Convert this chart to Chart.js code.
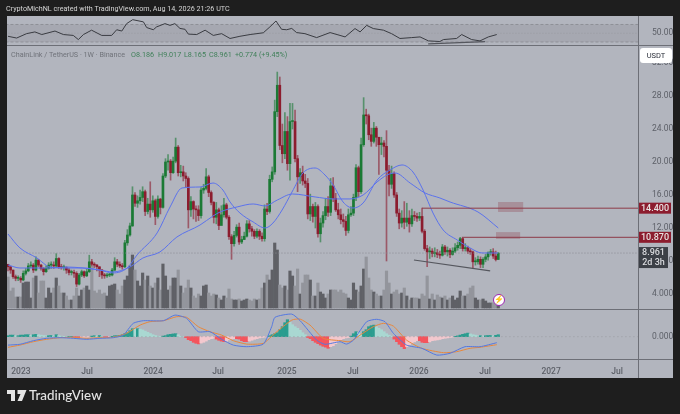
<!DOCTYPE html>
<html>
<head>
<meta charset="utf-8">
<title>ChainLink / TetherUS</title>
<script src="https://cdn.jsdelivr.net/npm/chart.js@4"></script>
<style>
  html, body { margin: 0; padding: 0; background: #1e1e1e; overflow: hidden; }
  body { width: 680px; height: 414px; position: relative; font-family: Roboto, sans-serif; }
  #panel { position: absolute; left: 7px; top: 16px; width: 666px; height: 362px; background: #b2b5be; }
  canvas { position: absolute; left: 0; top: 0; }
  .txt { position: absolute; white-space: nowrap; line-height: 1; }
  #title { left: 6px; top: 5px; font-size: 7.2px; color: #d6d6d6; }
  .legend { top: 51px; font-size: 7.2px; color: #6f7279; }
  .legend.val { color: #41805a; }
  #usdt { left: 640px; top: 48px; width: 32px; height: 15px; background: #fff; border-radius: 3px; font-size: 7.5px; color: #2a2e39; text-align: center; line-height: 15px; }
  #logo { left: 29px; top: 389px; font-family: Lato, sans-serif; font-size: 13.4px; font-weight: 500; color: #e4e4e4; }
  #logoMark { position: absolute; left: 7px; top: 390px; }
  #bolt { position: absolute; left: 493px; top: 294px; width: 10px; height: 10px; border: 1.5px solid #9c27b0; border-radius: 50%; background: #fff; color: #9c27b0; font-size: 8px; line-height: 10px; text-align: center; }
</style>
</head>
<body>
<div id="panel"></div>
<canvas id="chart" width="680" height="414"></canvas>
<div class="txt" id="title">CryptoMichNL created with TradingView.com, Aug 14, 2026 21:26 UTC</div>
<div class="txt legend" style="left:11px">ChainLink / TetherUS · 1W · Binance</div>
<div class="txt legend val" style="left:131px">O8.186</div>
<div class="txt legend val" style="left:158px">H9.017</div>
<div class="txt legend val" style="left:184px">L8.165</div>
<div class="txt legend val" style="left:209px">C8.961</div>
<div class="txt legend val" style="left:235px">+0.774 (+9.45%)</div>
<div class="txt" id="usdt">USDT</div>
<div id="bolt">⚡</div>
<svg id="logoMark" width="20" height="11" viewBox="0 0 20 11"><path fill="#e4e4e4" d="M0 0h8v11H4V4H0zM10.5 0h9L15 11h-4.5l3-7h-3z"/></svg>
<div class="txt" id="logo">TradingView</div>

<script>
// weekly candles, index 0 is late 2022
const firstOpen = 7.6;
const closes = [
  7.3,6.9,6.1,5.9,5.9,5.7,6.5,6.8,7.4,7.5,
  6.9,8.1,7.5,7.1,6.7,7.1,7.5,7.5,7.4,8.3,
  7.3,7.2,7.2,6.9,6.6,6.6,6.5,5.2,6.3,6.7,
  6.2,6.7,7.9,7.6,7.5,7.3,6.9,6.3,6.2,6.3,
  6.3,6.9,7.9,7.6,7.4,7.3,10.2,11.15,12.25,16,
  15,15.3,15.7,16.4,14,14.9,14.2,15.3,13.4,15.5,
  14.5,18.3,20,20.1,18.7,20.1,21.8,18.7,18.8,18.3,
  18,14.2,15.2,14.3,14.2,13.5,16.6,16.8,18.2,16.3,
  15.1,13.3,14.2,12.3,13.6,14.8,13.3,10.95,10.1,11.1,
  12.1,10.3,10.6,11,12.5,11.9,11.6,11,11.6,11,
  10.7,14.3,14,17.9,18.8,26.1,29.3,22,21,23.7,
  19.8,24.9,24.9,20.4,18.2,18.7,17.7,17.4,13.7,14.6,
  13.4,14.6,11.3,12.6,13.5,14.6,13.9,17.1,15.6,14.2,
  13.6,13,12.8,11.7,13.6,13.8,15.7,19.3,16.4,22.1,
  25.7,25.6,23.3,22.5,24.1,23,22.1,22.3,21.9,19,
  17.3,18.6,16,13.8,12.6,13.2,12.7,13.2,12.5,13.5,
  13.4,13.2,13.4,11.6,9.5,9.1,9.2,8.9,9,8.8,
  8.7,9.7,9.1,9.3,8.8,9.2,9.6,9.9,10.7,9.5,
  9.6,9.2,9.1,7.9,7.9,8.2,7.6,8.2,8.5,9,
  9.1,8.6,8.186,8.961
];
const highs = [
  7.6,7.3,6.9,6.3,6.2,6.1,6.8,7.1,7.7,7.9,
  7.7,8.5,8.2,7.6,7.2,7.4,7.8,7.9,7.9,8.9,
  8.4,7.6,7.5,7.3,7.1,6.9,6.9,6.7,6.5,6.9,
  6.8,7,8.7,8.2,7.8,7.6,7.3,7,6.5,6.5,
  6.5,7.1,8.4,8.2,7.9,7.7,10.5,11.8,12.6,17,
  16.3,15.9,16.6,17,16.6,15.6,17.6,15.9,15.5,15.9,
  15.6,18.6,20.4,20.9,20.3,20.6,22.9,22,19.6,19.5,
  18.7,18.2,15.8,15.3,14.7,14.7,16.9,17.3,19.2,18.4,
  16.5,15.2,15.1,14.4,14.7,15.6,15,13.5,11.2,11.6,
  12.4,12.6,11,11.5,12.9,12.9,12.2,11.8,11.9,11.8,
  11.4,14.8,15,18.4,19.4,27.5,30.9,30.3,24.6,26,
  25.5,27.1,27.1,26.3,20.8,19.2,19.5,18.5,18,16.1,
  14.9,15.1,14.8,13.2,14,15.6,15.8,18,18.1,16.2,
  15,14.3,13.7,13.4,14.3,14.6,16.1,19.7,19.5,22.9,
  27.8,26.4,25.8,24.1,24.8,24.3,22.9,23,22.6,23.8,
  19.6,19.5,18.8,16.3,14.3,14.1,15.2,15,14.1,14.3,
  14,13.8,13.9,14.4,11.8,9.9,9.7,9.5,9.6,9.4,
  9.2,10,9.9,9.7,9.5,9.6,10.1,10.3,10.87,10.8,
  10.1,9.8,9.5,9.2,8.4,8.6,8.5,8.4,8.8,9.1,
  9.4,9.5,9.2,9.017
];
const lows = [
  6.8,6.5,5.9,5.6,5.6,5.4,5.6,6.3,6.7,7.2,
  6.6,6.8,7.3,6.9,6.3,6.6,7,7.1,7.1,7.2,
  7.1,7,6.9,6.5,6.3,6.3,6,4.9,5.1,6.1,
  6,6.1,6.6,7.4,7.2,6.8,6.1,5.9,5.9,6,
  6.1,6.2,6.8,7.3,7.2,7,7.2,9.9,11,12.2,
  14.6,14.5,14.9,15.2,13.5,13.7,13.3,13.9,12.4,13.2,
  13.7,14.4,18.1,19,17.8,18.6,19.9,18.3,18.2,17.7,
  16.9,12,13.4,13.1,12.8,12.9,13.2,16.2,16.6,15.8,
  14.8,12.6,12.5,11.8,12.9,13.3,13.1,10.6,8.2,9.8,
  10.9,10,10.1,10.6,10.9,11.5,11,10.7,10.8,10.6,
  10.4,10.4,13.6,13.8,17.6,18.5,25.5,21.5,19.9,20.4,
  19,17.8,24,20,16.4,17.4,17.2,16.9,13.1,12.9,
  12.7,12,10.9,10.3,12.1,13,13.4,13.5,15.2,14,
  13.1,12.5,12.1,11.1,11.4,13.4,13.5,15.3,15.8,16.2,
  21.9,24.6,22.7,21.9,22.3,21.9,18.5,20.9,20.6,8,
  15.9,16.8,15.7,13.4,11.9,12.1,11.9,12.2,11.5,12.2,
  12.9,12.8,12.9,11.4,9.3,7.3,8.3,8.5,8.5,8.4,
  8.3,8.6,8.8,8.6,8.4,8.7,9,9.3,9.5,9.2,
  9.2,8.9,8.8,7.1,7.5,7.6,7.2,7.2,7.9,8.1,
  8.7,8.3,8,8.165
];
// bar height off the baseline of the price pane
const volumes = [
  31,17,20,11,11,11,25,26,26,10,
  30,32,15,27,27,10,20,15,20,30,
  22,15,15,12,8,8,12,20,12,18,
  20,22,18,42,17,15,18,14,15,12,
  22,23,24,18,14,22,28,32,42,53,
  38,27,22,35,28,32,22,20,25,30,
  18,44,32,18,22,30,30,38,22,15,
  20,28,20,12,10,14,12,22,23,15,
  12,14,13,10,8,12,10,19,9,8,
  8,9,7,8,9,8,7,9,8,9,
  20,25,33,28,38,65,58,23,20,22,
  18,37,32,22,39,14,25,33,33,28,
  12,12,25,16,14,10,14,18,18,18,
  16,18,15,14,10,8,25,18,16,22,
  39,51,30,18,16,14,12,12,18,37,
  25,14,16,18,14,15,20,12,8,10,
  10,10,9,14,12,32,9,14,8,13,
  11,10,12,8,10,12,8,10,17,12,
  12,14,20,22,10,8,8,9,7,5,
  5,5,4,3
];
const histValues = [
  .05,.08,.08,.05,.05,.08,.08,.1,.1,.08,
  .1,.12,.1,.08,.06,.05,.05,.06,.05,.1,
  .05,.03,.02,.01,.01,.01,-.03,-.05,-.06,-.05,
  -.04,-.03,-.02,.03,.05,.04,.06,.03,-.02,-.03,
  -.02,.02,.05,.05,.07,.1,.15,.2,.3,.4,
  .38,.4,.38,.34,.28,.22,.16,.1,.06,.03,
  .01,.03,.05,.1,.12,.14,.15,.1,.02,0,
  -.05,-.15,-.2,-.28,-.33,-.36,-.32,-.28,-.22,-.15,
  -.1,-.08,-.12,-.18,-.22,-.25,-.22,-.16,-.12,-.1,
  -.1,-.12,-.2,-.25,-.25,-.22,-.18,-.13,-.1,-.06,
  -.04,-.02,-.01,.05,.1,.15,.2,.35,.5,.7,
  .85,.72,.6,.5,.42,.32,.2,.1,-.04,-.1,
  -.2,-.28,-.35,-.42,-.48,-.52,-.58,-.5,-.45,-.35,
  -.25,-.15,-.1,-.06,-.04,.03,.15,.25,.2,.12,
  .25,.35,.5,.55,.58,.5,.42,.35,.25,.15,
  .08,.03,-.12,-.25,-.38,-.5,-.6,-.5,-.4,-.32,
  -.26,-.2,-.2,-.28,-.3,-.3,-.26,-.2,-.18,-.16,
  -.14,-.1,-.08,-.06,-.04,-.02,.02,.04,.08,.12,
  .15,.18,.14,.1,.08,.05,.05,.04,.05,.06,
  .06,.05,.07,.1
];

// moving averages
const fastWeeks = [0,4.7,11.4,16.5,21.7,29.5,36.2,41.3,46.9,50.8,58.7,63.8,68.5,75.6,80.7,84.6,87.4,91.3,96.5,101.2,104.3,107.9,111.8,116.1,120.9,124.8,128,131.9,135.8,139.8,145.3,150.4,155.1,159.4,163.4,167.3,171.3,176.8,181.9,186.6,192.9];
const fastValues = [11.27,9.58,8.36,7.27,7.15,7.15,6.9,6.55,7.15,8.73,11.4,14.55,16.85,16.97,17.45,16.6,15.15,13.82,12.73,12,12.6,14.18,16.36,18.67,19.27,18.42,17.2,15.15,14.42,15.03,17.82,19.03,19.64,18.79,16.6,13.82,11.76,10.55,9.58,8.97,8.97];
const slowWeeks = [0,4.7,11.4,16.5,23.2,29.5,36.2,41.3,48,53.1,59.8,66.5,75.6,80.7,83.5,90.2,96.5,101.2,106,112,120.9,128,134.6,139.8,145.3,149.2,152.4,158.3,164.2,170,174,185,193];
const slowValues = [7.52,7.15,7.15,7.15,7.27,7.15,6.9,6.67,7.27,8.36,9.09,10.91,12.36,13.45,13.94,14.55,14.91,14.67,15.39,16.12,15.76,15.52,15.52,16,17.58,18.42,18.67,17.45,16.24,15.64,15.15,13.94,12];

// RSI pane
const rsiWeeks = [0,3.4,7.3,10.6,13.3,18.5,21.8,25.7,27.7,29.7,32.9,36.9,40.8,42.8,44.8,46.7,49.1,53.3,54.6,57.2,58.5,61.8,63.8,65.7,67.7,69.7,71,74.3,77.6,80.8,84.1,87.4,91.3,95.3,100.5,103.1,105.5,107.7,109.7,111.7,113.6,116.9,121.5,126.8,130.7,132.7,136.6,138.6,141.2,143.8,147.8,151,154.3,158.9,162.2,165.5,170,171.4,176.6,178.6,182.5,185.8,189.1,192.4];
const rsiValues = [43,39,49,53,47,55,47,45,35.5,47,57,45,45,58,55,72,81,76,63,58,64.5,72,68,72,61,59,48,47,57,45,49,38,43,47,51,64.5,78,59,58,61,51.5,49,40,51.5,45,41.6,60.7,53,68,60.7,57,49,38,40,41.6,32.5,31,35.5,38,47,35.5,32.5,41.6,47];
const rsiBand = [30, 70];
const rsiTrendWeeks = [165.4, 187.8];
const rsiTrendValues = [25.5, 30.8];

// MACD pane
const macdWeeks = [0,4.7,10,15.2,20.5,25.7,31,36.2,41.5,45.4,49.3,53.3,61.2,65.7,70.3,74.9,79.5,84.1,88.7,94,100.5,103.8,105.1,111.7,115,121.5,124.8,130.7,133.3,136,141.2,145.1,148.4,151.7,156.9,162.9,168.8,174,179.9,185.8,192.4];
const macdValues = [-.42,-.38,-.2,-.08,-.05,-.08,-.13,-.08,-.05,.08,.67,.8,.8,1.08,.92,.25,.25,-.13,-.42,-.5,-.37,.5,.97,1.13,.8,-.17,-.38,-.25,-.37,-.17,.75,.87,.75,.17,-.42,-.58,-.92,-.83,-.5,-.5,-.3];
const signalWeeks = [0,4.7,10,15.2,20.5,25.7,31,36.2,41.5,46.7,52,55.9,61.2,66.4,70.3,74.9,79.5,84.1,88.7,94,100.5,105.1,111.7,115,118.9,124.1,130.7,134.6,138.6,143.8,147.8,151.7,156.9,162.9,171.4,176.6,181.9,185.8,192.4];
const signalValues = [-.53,-.42,-.25,-.13,-.05,-.03,-.08,-.05,-.03,.17,.58,.75,.8,1,.97,.5,.25,.08,-.2,-.37,-.33,.17,.83,.88,.58,-.08,-.2,-.25,.08,.5,.67,.53,-.17,-.58,-.8,-.75,-.58,-.53,-.4];

// x axis
const tickWeeks = [5.1,31.1,57.1,82.7,109.8,135.8,161.8,187.8,213.8,239.8];
const tickLabels = ['2023','Jul','2024','Jul','2025','Jul','2026','Jul','2027','Jul'];
const priceTicks = [4,8,12,16,20,24,28,32];

// drawn levels and zones
const resistanceWeeks = [[163, 248], [178.7, 248]];
const resistanceValues = [14.4, 10.87];
const supportWeeks = [159.8, 189.8];
const supportValues = [8.12, 6.79];
const zoneWeeks = [[192.9, 202.8], [192.1, 201.6]];
const zoneValues = [[15.15, 13.94], [11.5, 10.67]];
const lastClose = 8.961;
const countdown = '2d 3h';

const weeks = closes.map((c, i) => i);
const opens = closes.map((c, i) => (i === 0 ? firstOpen : closes[i - 1]));
const isUp = weeks.map(i => closes[i] >= opens[i]);

const green = '#1b7a35';
const red = '#8c1c2e';
const lineBlue = '#5b72ec';

function pairs(xs, ys) {
  return xs.map((x, i) => ({ x, y: ys[i] }));
}

const histColors = histValues.map((v, i) => {
  const prev = i === 0 ? 0 : histValues[i - 1];
  if (v >= 0) return v >= prev ? '#2a9d8f' : '#a9d8d2';
  return v <= prev ? '#f4545c' : '#f3c8ce';
});

function lineSet(data, color, yAxisID, width, order, extra) {
  return Object.assign({
    type: 'line', data, yAxisID, borderColor: color, borderWidth: width,
    pointRadius: 0, tension: 0, order
  }, extra);
}

const fmt3 = v => v.toFixed(3);

// things the library has no element for: pane bands, zones, axis labels on the price levels
const overlays = {
  id: 'overlays',
  beforeDatasetsDraw(chart) {
    const { ctx, chartArea, scales } = chart;
    const rsi = scales.yRsi;
    ctx.save();
    ctx.fillStyle = '#a6a8b1';
    const top = rsi.getPixelForValue(rsiBand[1]);
    ctx.fillRect(chartArea.left, top, chartArea.width, rsi.getPixelForValue(rsiBand[0]) - top);
    ctx.fillStyle = 'rgba(141, 58, 72, 0.3)';
    zoneWeeks.forEach((w, i) => {
      const x0 = scales.x.getPixelForValue(w[0]);
      const x1 = scales.x.getPixelForValue(w[1]);
      const y0 = scales.y.getPixelForValue(zoneValues[i][0]);
      const y1 = scales.y.getPixelForValue(zoneValues[i][1]);
      ctx.fillRect(x0, y0, x1 - x0, y1 - y0);
    });
    ctx.restore();
  },
  afterDraw(chart) {
    const { ctx, chartArea, scales } = chart;
    const axisRight = chartArea.right + 35;
    ctx.save();
    ctx.strokeStyle = '#6d6f77';
    ctx.lineWidth = 1;
    ctx.beginPath();
    [scales.yRsi.bottom, scales.y.bottom, chartArea.bottom].forEach(y => {
      ctx.moveTo(chartArea.left, Math.round(y) + 0.5);
      ctx.lineTo(axisRight, Math.round(y) + 0.5);
    });
    ctx.moveTo(Math.round(chartArea.right) + 0.5, chartArea.top);
    ctx.lineTo(Math.round(chartArea.right) + 0.5, chartArea.bottom + 19);
    ctx.stroke();

    ctx.font = '500 9px Roboto, sans-serif';
    ctx.textAlign = 'center';
    ctx.textBaseline = 'middle';
    resistanceValues.forEach(v => {
      const y = scales.y.getPixelForValue(v);
      ctx.fillStyle = '#8c1c2e';
      ctx.fillRect(chartArea.right + 1, y - 5.5, 32, 11);
      ctx.fillStyle = '#e8e2e2';
      ctx.fillText(v.toFixed(3), chartArea.right + 17, y + 0.5);
    });
    const y = scales.y.getPixelForValue(lastClose);
    ctx.fillStyle = '#3c4047';
    ctx.fillRect(chartArea.right + 1, y - 6, 29, 21);
    ctx.fillStyle = '#d9dade';
    ctx.fillText(lastClose.toFixed(3), chartArea.right + 15.5, y);
    ctx.fillText(countdown, chartArea.right + 15.5, y + 10);
    ctx.restore();
  }
};

new Chart(document.getElementById('chart'), {
  data: {
    datasets: [
      { type: 'bar', yAxisID: 'yVol', order: 9, barThickness: 2.5, grouped: false,
        data: pairs(weeks, volumes),
        backgroundColor: weeks.map(i => (isUp[i] ? '#5f6066' : '#93959c')) },
      { type: 'bar', yAxisID: 'yMacd', order: 8, barThickness: 2.5, grouped: false,
        data: pairs(weeks, histValues), backgroundColor: histColors },
      { type: 'bar', yAxisID: 'y', order: 6, barThickness: 1, grouped: false,
        data: weeks.map(i => ({ x: i, y: [lows[i], highs[i]] })),
        backgroundColor: weeks.map(i => (isUp[i] ? 'rgba(27,122,53,0.6)' : 'rgba(140,28,46,0.6)')) },
      { type: 'bar', yAxisID: 'y', order: 5, barThickness: 2, grouped: false, minBarLength: 1,
        data: weeks.map(i => ({ x: i, y: [opens[i], closes[i]] })),
        backgroundColor: weeks.map(i => (isUp[i] ? green : red)) },
      lineSet(pairs(fastWeeks, fastValues), lineBlue, 'y', 1, 3, { cubicInterpolationMode: 'monotone' }),
      lineSet(pairs(slowWeeks, slowValues), lineBlue, 'y', 1, 3, { cubicInterpolationMode: 'monotone' }),
      lineSet(pairs(resistanceWeeks[0], [resistanceValues[0], resistanceValues[0]]), '#8d3a48', 'y', 1, 2),
      lineSet(pairs(resistanceWeeks[1], [resistanceValues[1], resistanceValues[1]]), '#8d3a48', 'y', 1, 2),
      lineSet(pairs(supportWeeks, supportValues), '#55575e', 'y', 1.2, 2),
      lineSet(pairs([-1, 248], [lastClose, lastClose]), '#8a8c93', 'y', 1, 4, { borderDash: [1, 2] }),
      lineSet(pairs([-1, 248], [rsiBand[1], rsiBand[1]]), '#8e9097', 'yRsi', 1, 4, { borderDash: [3, 2] }),
      lineSet(pairs([-1, 248], [rsiBand[0], rsiBand[0]]), '#8e9097', 'yRsi', 1, 4, { borderDash: [3, 2] }),
      lineSet(pairs([-1, 248], [50, 50]), '#989aa1', 'yRsi', 1, 4, { borderDash: [1, 2] }),
      lineSet(pairs(rsiWeeks, rsiValues), '#3a3c42', 'yRsi', 1, 2),
      lineSet(pairs(rsiTrendWeeks, rsiTrendValues), '#55575e', 'yRsi', 1.2, 2),
      lineSet(pairs([-1, 248], [0, 0]), '#9a9ca3', 'yMacd', 1, 7, { borderDash: [1, 3] }),
      lineSet(pairs(macdWeeks, macdValues), '#5478e0', 'yMacd', 1, 2, { tension: 0.2 }),
      lineSet(pairs(signalWeeks, signalValues), '#e8873c', 'yMacd', 1, 3, { tension: 0.2 })
    ]
  },
  plugins: [overlays],
  options: {
    responsive: false,
    animation: false,
    layout: { padding: { left: 7, right: 7, top: 16, bottom: 36 } },
    plugins: { legend: { display: false }, tooltip: { enabled: false } },
    scales: {
      x: {
        type: 'linear', min: -0.39, max: 248, offset: false,
        grid: { display: false }, border: { display: false },
        afterFit: s => { s.height = 19; },
        afterBuildTicks: s => { s.ticks = tickWeeks.map(value => ({ value })); },
        ticks: {
          autoSkip: false, maxRotation: 0, padding: 0, color: '#5d6068',
          font: { family: 'Roboto', size: 8.5, weight: '500' },
          callback: v => tickLabels[tickWeeks.indexOf(v)]
        }
      },
      yRsi: {
        position: 'right', stack: 'panes', stackWeight: 29, weight: 1,
        min: 23.1, max: 89.4,
        grid: { display: false }, border: { display: false },
        afterFit: s => { s.width = 35; },
        afterBuildTicks: s => { s.ticks = [{ value: 50 }]; },
        ticks: { color: '#5d6068', padding: 6, font: { family: 'Roboto', size: 8.5 }, callback: v => v.toFixed(2) }
      },
      y: {
        position: 'right', stack: 'panes', stackWeight: 264, weight: 2,
        min: 2.18, max: 34.18,
        grid: { display: false }, border: { display: false },
        afterFit: s => { s.width = 35; },
        afterBuildTicks: s => { s.ticks = priceTicks.map(value => ({ value })); },
        ticks: { color: '#5d6068', padding: 6, font: { family: 'Roboto', size: 8.5 }, callback: fmt3 }
      },
      yMacd: {
        position: 'right', stack: 'panes', stackWeight: 50, weight: 3,
        min: -1.115, max: 1.385,
        grid: { display: false }, border: { display: false },
        afterFit: s => { s.width = 35; },
        afterBuildTicks: s => { s.ticks = [{ value: 0 }]; },
        ticks: { color: '#5d6068', padding: 6, font: { family: 'Roboto', size: 8.5 }, callback: fmt3 }
      },
      yVol: {
        position: 'right', display: false, min: -51, max: 292
      }
    }
  }
});
</script>
</body>
</html>
